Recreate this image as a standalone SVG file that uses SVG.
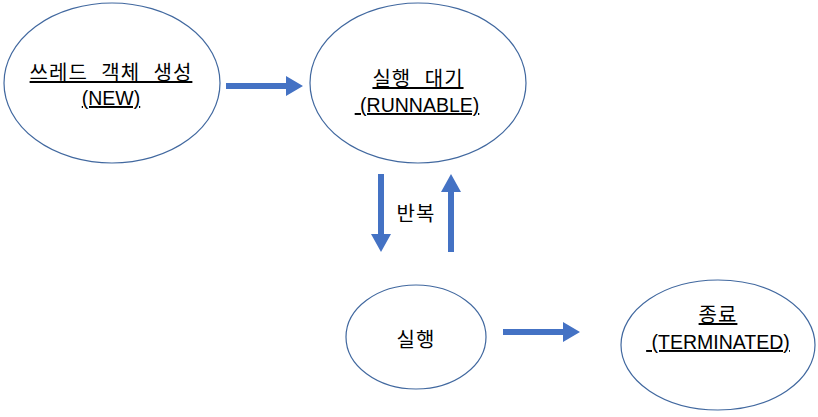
<svg xmlns="http://www.w3.org/2000/svg" width="818" height="417" viewBox="0 0 818 417">
<style>
.node ellipse{fill:#fff;stroke:#41689f;stroke-width:1.2}
text{font-family:"Noto Sans CJK KR","Noto Sans",sans-serif;font-size:20px;fill:#000;text-anchor:middle}
.k{word-spacing:8px;letter-spacing:1px}
.l{font-family:"Liberation Sans",Arial,sans-serif;font-size:19.5px}
.u{text-decoration:underline}
.arr{fill:#4472c4}
</style>
<rect width="818" height="417" fill="#fff"/>
<g id="new" class="node">
<ellipse cx="112" cy="83" rx="108" ry="80"/>
<text class="u"><tspan x="111" y="80" class="k">쓰레드 객체 생성</tspan><tspan x="111" y="105" class="l">(NEW)</tspan></text>
</g>
<g id="runnable" class="node">
<ellipse cx="418" cy="83" rx="108" ry="80"/>
<text class="u" xml:space="preserve"><tspan x="418" y="86" class="k">실행 대기</tspan><tspan x="417" y="112" class="l"> (RUNNABLE)</tspan></text>
</g>
<g id="running" class="node">
<ellipse cx="416" cy="337" rx="70" ry="52"/>
<text x="416" y="347" class="k">실행</text>
</g>
<g id="terminated" class="node">
<ellipse cx="718" cy="345" rx="97" ry="65"/>
<text class="u" xml:space="preserve"><tspan x="718" y="322" class="k">종료</tspan><tspan x="718" y="349" class="l"> (TERMINATED)</tspan></text>
</g>
<g id="connectors">
<polygon class="arr" points="226,83 286,83 286,76 303,86 286,96 286,89 226,89"/>
<polygon class="arr" points="378,174 384,174 384,234 391,234 381,252 371,234 378,234"/>
<polygon class="arr" points="448,252 454,252 454,192 461,192 451,174 441,192 448,192"/>
<polygon class="arr" points="503,329 563,329 563,322 580,332 563,342 563,335 503,335"/>
<text x="416" y="221" class="k">반복</text>
</g>
</svg>
